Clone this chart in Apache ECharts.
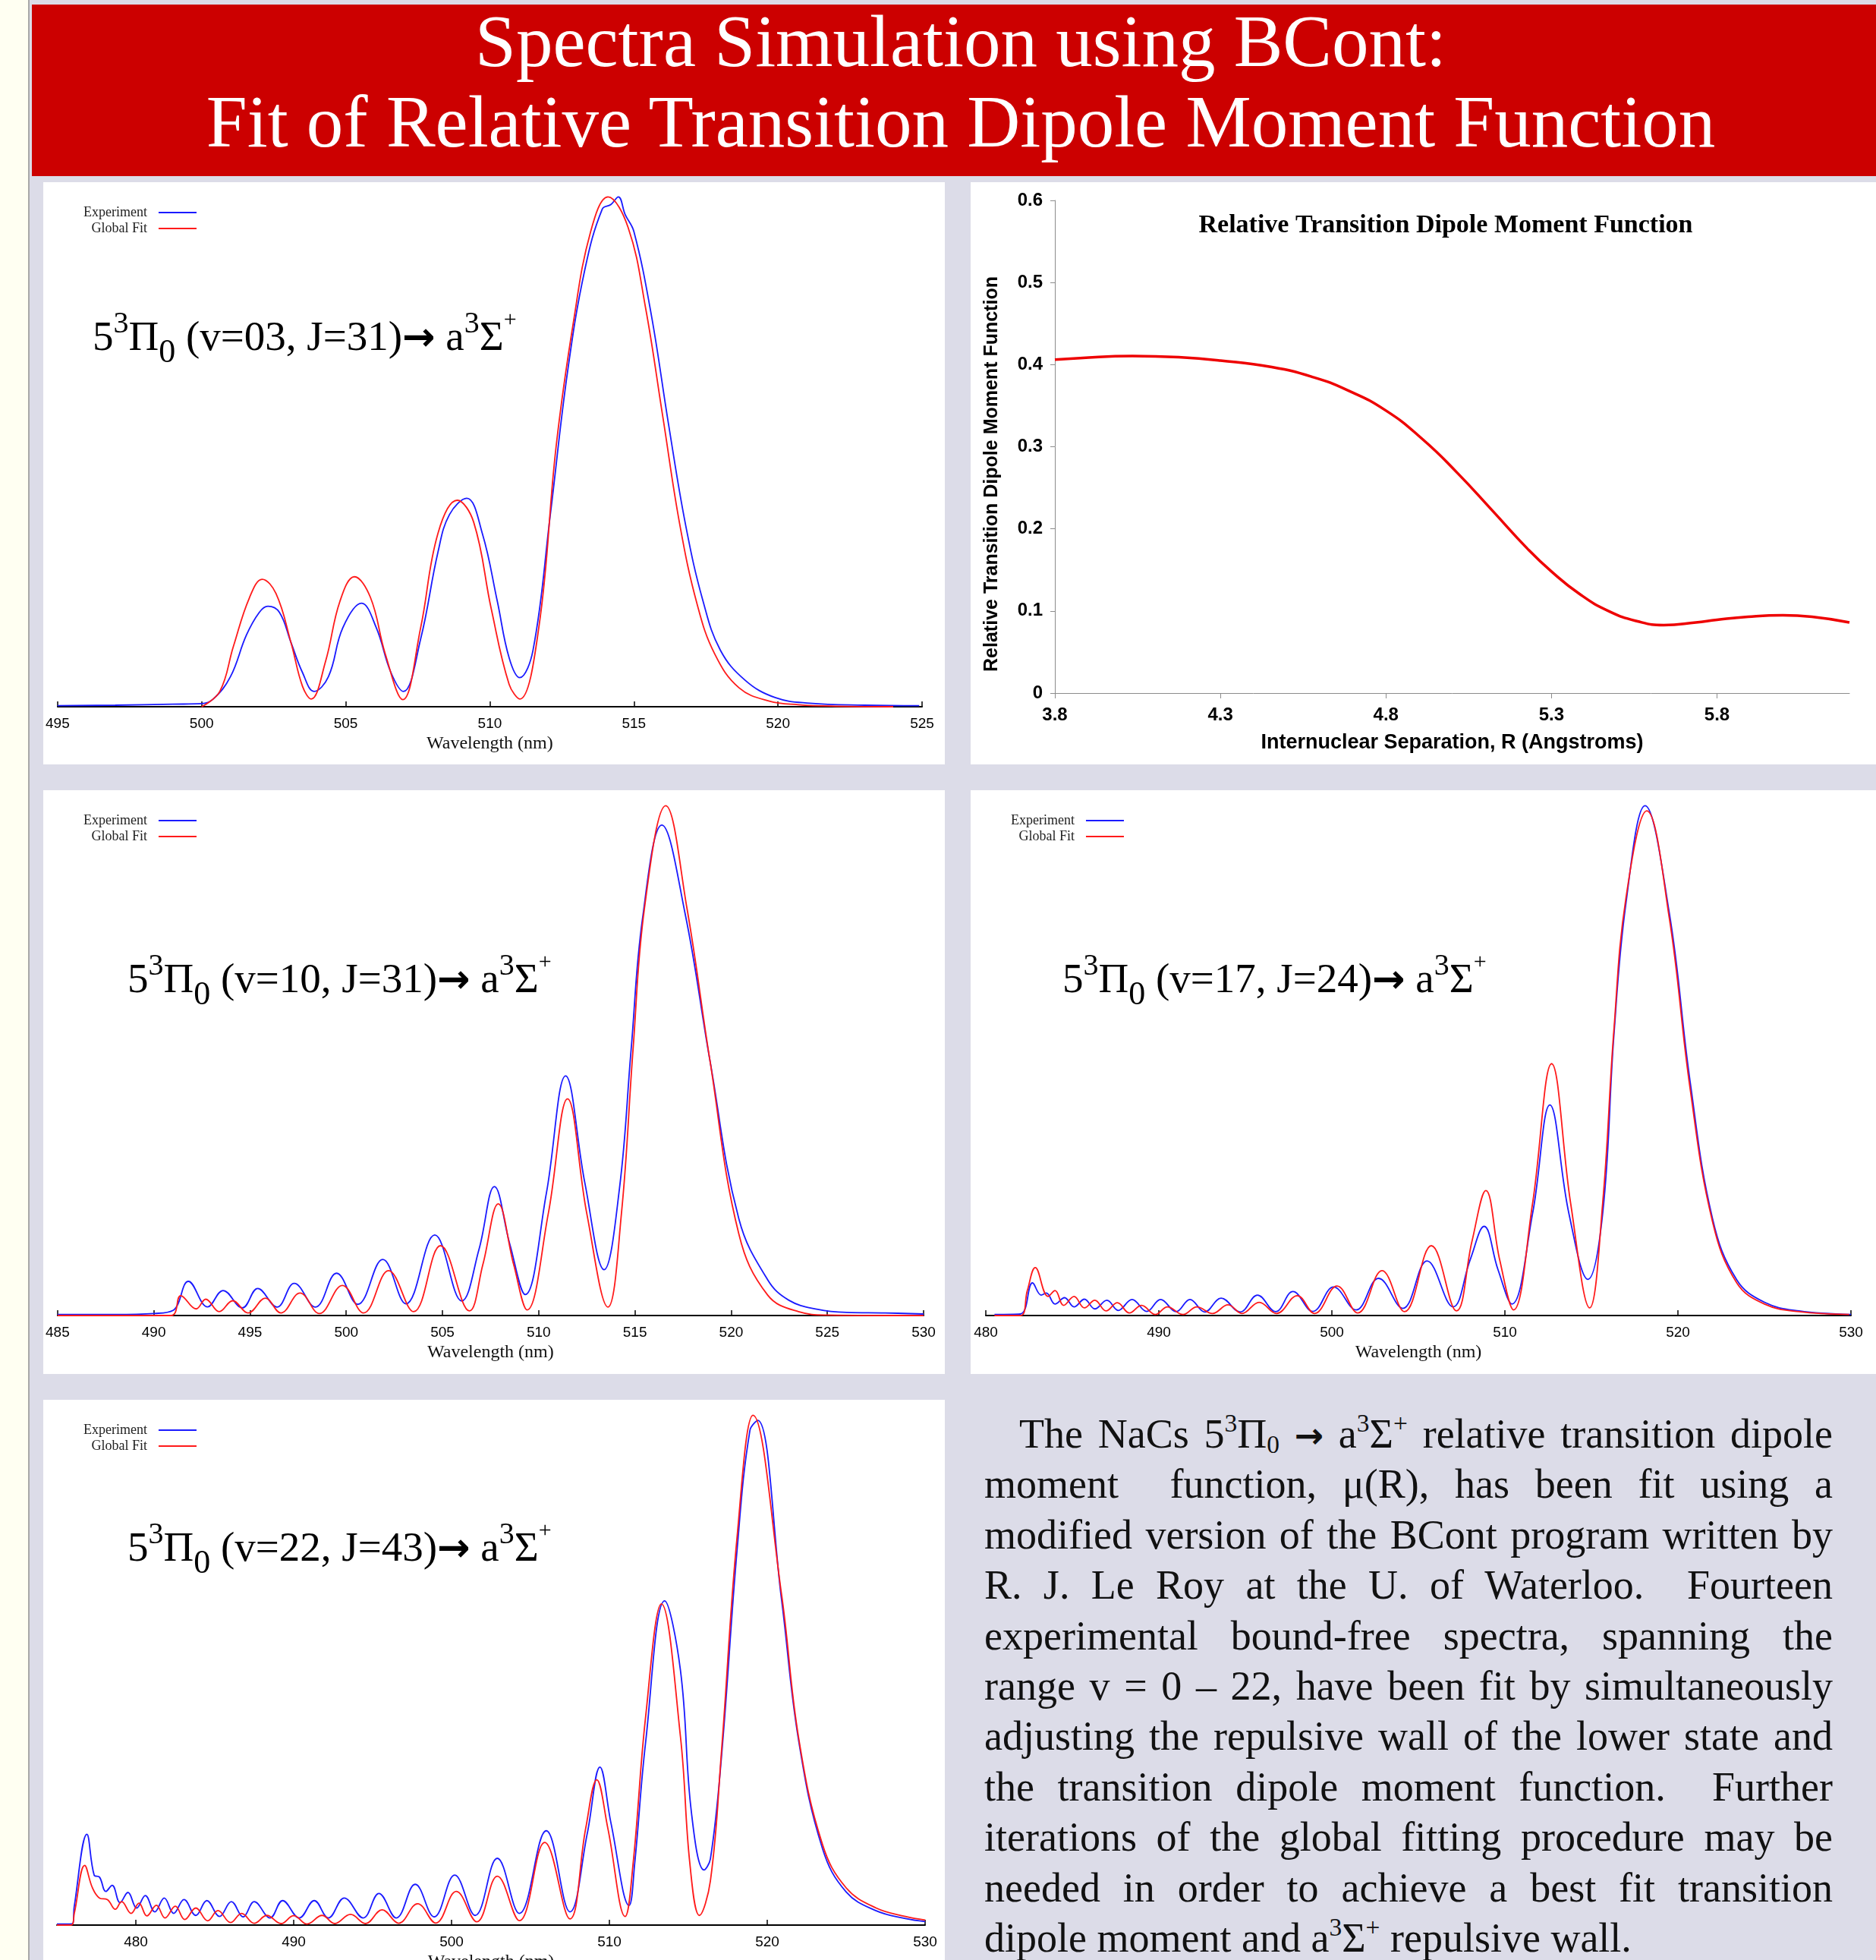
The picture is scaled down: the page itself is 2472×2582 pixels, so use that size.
<!DOCTYPE html>
<html>
<head>
<meta charset="utf-8">
<script src="https://cdn.jsdelivr.net/npm/echarts@6.0.0/dist/echarts.min.js"></script>
<style>
  html, body { margin: 0; padding: 0; width: 2472px; height: 2582px; overflow: hidden; background: #dcdce8; }
  #strip { position: absolute; left: 0; top: 0; width: 37px; height: 2582px; background: #fffff2; border-right: 2px solid #a8a8a8; }
  #banner { position: absolute; left: 42px; top: 6px; width: 2430px; height: 226px; background: #cc0000; }
  .tl { position: absolute; left: 1266px; transform: translateX(-50%); white-space: nowrap; color: #fff;
        font-family: 'Liberation Serif'; font-size: 97px; line-height: 97px; }
  .panel { position: absolute; background: #fff; }
  #txt { position: absolute; left: 1297px; top: 1856px; width: 1118px; font-family: 'Liberation Serif'; font-size: 54px; color: #111; }
  .ln { height: 66.4px; line-height: 66.4px; text-align: justify; text-align-last: justify; }
  .ln.last { text-align-last: left; }
  #txt sup, #txt sub { font-size: 0.62em; line-height: 0; }
  #txt sup { vertical-align: 0.62em; }
  #txt sub { vertical-align: -0.22em; }
  .ar { font-family: 'DejaVu Sans'; font-weight: bold; font-size: 0.85em; }
</style>
</head>
<body>
<div id="strip"></div>
<div id="banner"></div>
<div class="tl" style="top:6px">Spectra Simulation using BCont:</div>
<div class="tl" style="top:112px">Fit of Relative Transition Dipole Moment Function</div>

<div id="c1" class="panel" style="left:57px;top:240px;width:1188px;height:767px"></div>
<div id="c2" class="panel" style="left:1279px;top:240px;width:1193px;height:767px"></div>
<div id="c3" class="panel" style="left:57px;top:1041px;width:1188px;height:769px"></div>
<div id="c4" class="panel" style="left:1279px;top:1041px;width:1193px;height:769px"></div>
<div id="c5" class="panel" style="left:57px;top:1844px;width:1188px;height:767px"></div>

<div id="txt">
  <div class="ln" style="text-indent:46px">The NaCs 5<sup>3</sup>Π<sub>0</sub> <span class="ar">→</span> a<sup>3</sup>Σ<sup>+</sup> relative transition dipole</div>
  <div class="ln">moment &nbsp;function, μ(R), has been fit using a</div>
  <div class="ln">modified version of the BCont program written by</div>
  <div class="ln">R. J. Le Roy at the U. of Waterloo. &nbsp;Fourteen</div>
  <div class="ln">experimental bound-free spectra, spanning the</div>
  <div class="ln">range v = 0 – 22, have been fit by simultaneously</div>
  <div class="ln">adjusting the repulsive wall of the lower state and</div>
  <div class="ln">the transition dipole moment function. &nbsp;Further</div>
  <div class="ln">iterations of the global fitting procedure may be</div>
  <div class="ln">needed in order to achieve a best fit transition</div>
  <div class="ln last">dipole moment and a<sup>3</sup>Σ<sup>+</sup> repulsive wall.</div>
</div>

<script>
// v=03, J=31
const v03ExpWl = [495, 497, 499, 500, 500.4, 501.0, 501.55, 502.0, 502.3, 502.7, 503.1, 503.5, 503.9, 504.4, 504.9, 505.55, 506.06, 506.57, 507.0, 507.6, 508.2, 508.6, 509.2, 509.74, 510.26, 510.67, 511.04, 511.5, 512.1, 512.7, 513.3, 513.9, 514.2, 514.46, 514.7, 515.0, 515.6, 516.2, 516.8, 517.4, 518.0, 518.86, 519.9, 521.1, 523.0, 524.9]
const v03Exp = [0.002, 0.003, 0.005, 0.006, 0.015, 0.059, 0.14, 0.185, 0.197, 0.185, 0.126, 0.067, 0.03, 0.059, 0.155, 0.203, 0.155, 0.067, 0.03, 0.133, 0.303, 0.377, 0.409, 0.34, 0.207, 0.096, 0.057, 0.111, 0.377, 0.658, 0.858, 0.976, 0.985, 1.0, 0.965, 0.932, 0.77, 0.555, 0.355, 0.207, 0.111, 0.052, 0.018, 0.007, 0.003, 0.002]
const v03FitWl = [500.0, 500.63, 501.1, 501.66, 502.1, 502.58, 503.1, 503.5, 503.8, 504.3, 504.8, 505.3, 505.86, 506.37, 506.98, 507.6, 508.2, 508.87, 509.44, 510.05, 510.67, 511.04, 511.7, 512.3, 512.9, 513.5, 514.1, 514.8, 515.4, 516.0, 516.6, 517.2, 517.8, 518.65, 519.7, 520.7, 522.0, 524.0]
const v03Fit = [0, 0.03, 0.118, 0.214, 0.25, 0.222, 0.126, 0.04, 0.015, 0.089, 0.207, 0.255, 0.214, 0.104, 0.014, 0.155, 0.34, 0.405, 0.362, 0.192, 0.044, 0.015, 0.155, 0.51, 0.754, 0.932, 1.0, 0.94, 0.784, 0.57, 0.355, 0.2, 0.104, 0.037, 0.011, 0.004, 0.001, 0]

// v=10, J=31
const v10ExpWl = [485, 488, 490, 491.0, 491.8, 492.8, 493.6, 494.6, 495.4, 496.4, 497.3, 498.4, 499.5, 500.6, 501.9, 503.1, 504.6, 506.0, 506.9, 507.7, 508.5, 509.3, 510.4, 511.4, 512.4, 513.4, 514.2, 514.8, 515.4, 516.4, 517.6, 518.9, 520.4, 521.9, 523.0, 524.5, 526, 528, 530]
const v10Exp = [0.002, 0.002, 0.004, 0.01, 0.067, 0.017, 0.049, 0.015, 0.053, 0.0165, 0.063, 0.0165, 0.083, 0.022, 0.11, 0.023, 0.158, 0.0285, 0.13, 0.253, 0.14, 0.041, 0.24, 0.47, 0.26, 0.09, 0.25, 0.52, 0.78, 0.962, 0.79, 0.5, 0.19, 0.07, 0.03, 0.012, 0.006, 0.005, 0.003]
const v10FitWl = [485, 490.9, 491.4, 492.2, 492.7, 493.4, 494.1, 494.9, 495.8, 496.6, 497.6, 498.6, 499.8, 500.9, 502.2, 503.5, 504.9, 506.4, 507.1, 507.9, 508.7, 509.4, 510.5, 511.5, 512.5, 513.6, 514.3, 514.9, 515.5, 516.6, 517.7, 518.9, 520.4, 521.9, 523.5, 525, 530]
const v10Fit = [0, 0, 0.039, 0.013, 0.032, 0.0075, 0.029, 0.005, 0.034, 0.005, 0.044, 0.004, 0.059, 0.005, 0.088, 0.0075, 0.137, 0.009, 0.1, 0.219, 0.1, 0.011, 0.2, 0.425, 0.2, 0.0165, 0.2, 0.52, 0.8, 1.0, 0.8, 0.5, 0.16, 0.04, 0.0075, 0.001, 0]

// v=17, J=24
const v17ExpWl = [480.5, 482.0, 482.7, 483.2, 483.5, 484.0, 484.55, 485.1, 485.7, 486.3, 487.0, 487.65, 488.45, 489.3, 490.1, 491.0, 491.8, 492.65, 493.6, 494.7, 495.7, 496.75, 497.75, 498.9, 500.1, 501.4, 502.7, 504.1, 505.5, 507.0, 508.0, 508.8, 509.6, 510.4, 511.6, 512.6, 513.7, 514.8, 515.65, 516.3, 517.0, 518.1, 519.5, 520.7, 522.0, 523.4, 525.0, 527.0, 530]
const v17Exp = [0.002, 0.003, 0.064, 0.04, 0.044, 0.0225, 0.035, 0.017, 0.032, 0.013, 0.03, 0.01, 0.0315, 0.008, 0.0315, 0.0075, 0.0315, 0.007, 0.034, 0.007, 0.04, 0.0075, 0.047, 0.008, 0.056, 0.011, 0.073, 0.014, 0.107, 0.017, 0.11, 0.175, 0.09, 0.0225, 0.2, 0.413, 0.2, 0.071, 0.2, 0.55, 0.81, 1.0, 0.79, 0.46, 0.19, 0.07, 0.026, 0.009, 0.002]
const v17FitWl = [480.5, 482.0, 482.4, 482.86, 483.6, 484.0, 484.5, 485.1, 485.7, 486.3, 486.95, 487.6, 488.3, 489.0, 489.8, 490.5, 491.4, 492.2, 493.1, 494.0, 494.8, 495.8, 496.8, 498.0, 499.0, 500.3, 501.5, 502.9, 504.2, 505.75, 507.2, 508.1, 508.9, 509.7, 510.5, 511.6, 512.7, 513.8, 514.9, 515.65, 516.3, 517.0, 518.2, 519.5, 520.7, 522.0, 523.4, 525.0, 527.0, 529.9]
const v17Fit = [0, 0, 0.049, 0.094, 0.0375, 0.049, 0.02, 0.0375, 0.015, 0.03, 0.009, 0.025, 0.005, 0.02, 0.002, 0.017, 0.002, 0.017, 0.004, 0.021, 0.004, 0.026, 0.004, 0.039, 0.004, 0.058, 0.005, 0.088, 0.0075, 0.137, 0.009, 0.146, 0.245, 0.109, 0.011, 0.22, 0.494, 0.22, 0.015, 0.22, 0.56, 0.82, 0.99, 0.78, 0.446, 0.184, 0.064, 0.0225, 0.0075, 0.002]

// v=22, J=43
const v22ExpWl = [475, 476.0, 476.1, 476.9, 477.36, 477.7, 478.1, 478.5, 479.0, 479.5, 480.05, 480.6, 481.2, 481.8, 482.4, 483.05, 483.8, 484.5, 485.3, 486.05, 486.8, 487.5, 488.5, 489.3, 490.35, 491.3, 492.2, 493.2, 494.4, 495.4, 496.5, 497.7, 498.9, 500.2, 501.5, 502.9, 504.3, 506.0, 507.5, 508.6, 509.4, 510.1, 511.25, 511.6, 512.3, 513.5, 514.5, 515.2, 516.0, 516.4, 517.1, 518.1, 518.9, 519.4, 520.9, 522.0, 523.5, 525.0, 526.9, 528.75, 530]
const v22Exp = [0.002, 0.003, 0.037, 0.178, 0.098, 0.094, 0.066, 0.078, 0.044, 0.064, 0.0335, 0.058, 0.026, 0.053, 0.023, 0.05, 0.019, 0.048, 0.017, 0.046, 0.016, 0.046, 0.014, 0.048, 0.014, 0.048, 0.014, 0.053, 0.014, 0.062, 0.014, 0.08, 0.016, 0.098, 0.019, 0.131, 0.023, 0.185, 0.026, 0.18, 0.31, 0.2, 0.0385, 0.12, 0.36, 0.636, 0.5, 0.22, 0.108, 0.13, 0.33, 0.74, 0.97, 0.99, 0.64, 0.36, 0.15, 0.065, 0.028, 0.013, 0.007]
const v22FitWl = [475, 475.9, 476.1, 476.76, 477.25, 477.7, 478.2, 478.7, 479.1, 479.7, 480.2, 480.7, 481.3, 481.85, 482.5, 483.1, 483.8, 484.55, 485.2, 486.0, 486.7, 487.5, 488.3, 489.2, 490.0, 490.85, 491.8, 492.6, 493.6, 494.55, 495.6, 496.65, 497.85, 499.0, 500.3, 501.6, 502.9, 504.3, 505.9, 507.5, 508.5, 509.2, 509.9, 511.0, 511.5, 512.3, 513.3, 514.5, 515.1, 515.7, 516.4, 517.1, 518.1, 519.1, 520.9, 522.0, 523.5, 525.0, 526.9, 528.75, 530]
const v22Fit = [0, 0, 0.023, 0.117, 0.073, 0.053, 0.05, 0.031, 0.046, 0.023, 0.043, 0.018, 0.039, 0.014, 0.037, 0.011, 0.0335, 0.0085, 0.0285, 0.005, 0.023, 0.0036, 0.019, 0.003, 0.0185, 0.002, 0.019, 0.003, 0.021, 0.003, 0.03, 0.0036, 0.042, 0.004, 0.066, 0.0064, 0.096, 0.0086, 0.162, 0.012, 0.19, 0.285, 0.19, 0.017, 0.12, 0.41, 0.63, 0.37, 0.12, 0.019, 0.087, 0.34, 0.765, 1.0, 0.65, 0.365, 0.158, 0.073, 0.0335, 0.017, 0.01]
const v22Ticks = [480, 490, 500, 510, 520, 530]

// dipole moment function
const rValues = [3.8, 3.876, 4.034, 4.174, 4.3, 4.455, 4.578, 4.683, 4.8, 4.911, 5.016, 5.122, 5.227, 5.3, 5.385, 5.473, 5.56, 5.639, 5.736, 5.8, 5.894, 5.999, 6.087, 6.2]
const muValues = [0.406, 0.408, 0.4104, 0.409, 0.405, 0.397, 0.385, 0.369, 0.344, 0.309, 0.268, 0.222, 0.176, 0.148, 0.1206, 0.0998, 0.0874, 0.0828, 0.086, 0.0893, 0.093, 0.0948, 0.093, 0.086]
const rTicks = [3.8, 4.3, 4.8, 5.3, 5.8]

const pts = (xs, ys) => xs.map((x, i) => [x, ys[i]])

const rich = {
  m: { fontFamily: 'Liberation Serif', fontSize: 55, lineHeight: 80, fill: '#000' },
  s: { fontFamily: 'Liberation Serif', fontSize: 40, lineHeight: 60, verticalAlign: 'top', fill: '#000' },
  b: { fontFamily: 'Liberation Serif', fontSize: 44, lineHeight: 42, verticalAlign: 'bottom', fill: '#000' },
  p: { fontFamily: 'Liberation Serif', fontSize: 30, lineHeight: 50, verticalAlign: 'top', fill: '#000' },
  a: { fontFamily: 'DejaVu Sans', fontWeight: 'bold', fontSize: 52, lineHeight: 80, fill: '#000' }
}

const stateLabel = (v, j) => `{m|5}{s|3}{m|Π}{b|0}{m| (v=${v}, J=${j})}{a|→}{m| a}{s|3}{m|Σ}{p|+}`

const spectrumOption = (c) => ({
  animation: false,
  grid: c.grid,
  legend: {
    left: 48, top: 26, orient: 'vertical', align: 'right', icon: 'rect',
    itemWidth: 50, itemHeight: 2, itemGap: 3,
    textStyle: { fontFamily: 'Liberation Serif', fontSize: 18, color: '#222', padding: [0, 10, 0, 0] },
    data: ['Experiment', 'Global Fit']
  },
  graphic: [{
    type: 'text', left: c.labelX, top: c.labelY,
    style: { text: stateLabel(c.v, c.j), rich: rich }
  }],
  xAxis: {
    type: 'value', min: c.min, max: c.max, interval: c.interval,
    name: 'Wavelength (nm)', nameLocation: 'middle', nameGap: 36,
    nameTextStyle: { fontFamily: 'Liberation Serif', fontSize: 24, color: '#111' },
    axisLine: { lineStyle: { color: '#000', width: 2 } },
    axisTick: { inside: true, length: 7, lineStyle: { color: '#000', width: 1.5 }, customValues: c.ticks },
    axisLabel: { fontFamily: 'Liberation Sans', fontSize: 19, color: '#000', margin: 13, customValues: c.ticks },
    splitLine: { show: false }
  },
  yAxis: { type: 'value', min: 0, max: 1.02, show: false },
  series: [
    {
      name: 'Experiment', type: 'line', data: pts(c.expWl, c.exp),
      symbol: 'none', smooth: 0.4,
      lineStyle: { color: '#1a1aff', width: 1.8 }, itemStyle: { color: '#1a1aff' }
    },
    {
      name: 'Global Fit', type: 'line', data: pts(c.fitWl, c.fit),
      symbol: 'none', smooth: 0.4,
      lineStyle: { color: '#ff1a1a', width: 1.8 }, itemStyle: { color: '#ff1a1a' }
    }
  ]
})

echarts.init(document.getElementById('c1')).setOption(spectrumOption({
  grid: { left: 18, right: 30, top: 6, bottom: 76 },
  min: 495, max: 525, interval: 5,
  v: '03', j: '31', labelX: 65, labelY: 167,
  expWl: v03ExpWl, exp: v03Exp, fitWl: v03FitWl, fit: v03Fit
}))

echarts.init(document.getElementById('c3')).setOption(spectrumOption({
  grid: { left: 18, right: 28, top: 7, bottom: 77 },
  min: 485, max: 530, interval: 5,
  v: '10', j: '31', labelX: 111, labelY: 212,
  expWl: v10ExpWl, exp: v10Exp, fitWl: v10FitWl, fit: v10Fit
}))

echarts.init(document.getElementById('c4')).setOption(spectrumOption({
  grid: { left: 20, right: 33, top: 7, bottom: 77 },
  min: 480, max: 530, interval: 10,
  v: '17', j: '24', labelX: 121, labelY: 212,
  expWl: v17ExpWl, exp: v17Exp, fitWl: v17FitWl, fit: v17Fit
}))

echarts.init(document.getElementById('c5')).setOption(spectrumOption({
  grid: { left: 18, right: 26, top: 7, bottom: 75 },
  min: 475, max: 530, interval: 5, ticks: v22Ticks,
  v: '22', j: '43', labelX: 111, labelY: 158,
  expWl: v22ExpWl, exp: v22Exp, fitWl: v22FitWl, fit: v22Fit
}))

echarts.init(document.getElementById('c2')).setOption({
  animation: false,
  grid: { left: 111, right: 35, top: 24, bottom: 94 },
  graphic: [{
    type: 'text', x: 626, y: 57,
    style: {
      text: 'Relative Transition Dipole Moment Function',
      font: 'bold 34px "Liberation Serif"', fill: '#000', align: 'center', verticalAlign: 'middle'
    }
  }],
  xAxis: {
    type: 'value', min: 3.8, max: 6.2, interval: 0.5,
    name: 'Internuclear Separation, R (Angstroms)', nameLocation: 'middle', nameGap: 52,
    nameTextStyle: { fontFamily: 'Liberation Sans', fontWeight: 'bold', fontSize: 27, color: '#000' },
    axisLine: { lineStyle: { color: '#8c8c8c' } },
    axisTick: { length: 7, lineStyle: { color: '#8c8c8c' }, customValues: rTicks },
    axisLabel: {
      customValues: rTicks, fontFamily: 'Liberation Sans', fontWeight: 'bold', fontSize: 24,
      color: '#000', margin: 17, formatter: (v) => v.toFixed(1)
    },
    splitLine: { show: false }
  },
  yAxis: {
    type: 'value', min: 0, max: 0.6, interval: 0.1,
    name: 'Relative Transition Dipole Moment Function', nameLocation: 'middle', nameGap: 70,
    nameTextStyle: {
      fontFamily: 'Liberation Sans', fontWeight: 'bold', fontSize: 25, color: '#000', padding: [0, 72, 0, 0]
    },
    axisLine: { show: true, lineStyle: { color: '#8c8c8c' } },
    axisTick: { show: true, length: 6, lineStyle: { color: '#8c8c8c' } },
    axisLabel: {
      fontFamily: 'Liberation Sans', fontWeight: 'bold', fontSize: 24, color: '#000', margin: 16,
      formatter: (v) => (v === 0 ? '0' : v.toFixed(1))
    },
    splitLine: { show: false }
  },
  series: [{
    type: 'line', data: pts(rValues, muValues), symbol: 'none', smooth: true,
    lineStyle: { color: '#ee0000', width: 3.5 }
  }]
})
</script>
</body>
</html>
